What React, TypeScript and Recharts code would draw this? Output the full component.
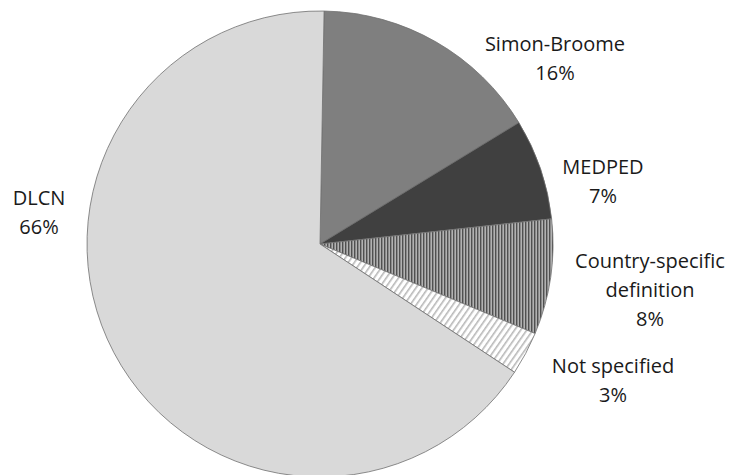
import { Cell, Pie, PieChart } from "recharts";

const categories = ["Simon-Broome", "MEDPED", "Country-specific definition", "Not specified", "DLCN"];
const shares = [16, 7, 8, 3, 66];

// label lines shown above the percentage
const labelLines: Record<string, string[]> = {
  "Simon-Broome": ["Simon-Broome"],
  MEDPED: ["MEDPED"],
  "Country-specific definition": ["Country-specific", "definition"],
  "Not specified": ["Not specified"],
  DLCN: ["DLCN"],
};

// label anchor (centre x, first baseline y), placed by hand like the original
const labelAnchor: Record<string, [number, number]> = {
  "Simon-Broome": [555, 51],
  MEDPED: [603, 174],
  "Country-specific definition": [650, 268],
  "Not specified": [613, 373],
  DLCN: [39, 205],
};

const fills = ["#7f7f7f", "#404040", "url(#vstripes)", "url(#diag)", "#d9d9d9"];

const data = categories.map((name, i) => ({ name, value: shares[i] }));

const LINE_H = 29;

function renderLabel(props: any) {
  const name = props.name ?? props.payload?.name;
  const anchor = labelAnchor[name];
  if (!anchor) return null;
  const lines = [...labelLines[name], `${Math.round(props.percent * 100)}%`];
  return (
    <text
      key={name}
      x={anchor[0]}
      y={anchor[1]}
      textAnchor="middle"
      fill="#1a1a1a"
      fontSize={20}
      fontFamily="'Open Sans', sans-serif"
    >
      {lines.map((l, i) => (
        <tspan key={i} x={anchor[0]} dy={i === 0 ? 0 : LINE_H}>
          {l}
        </tspan>
      ))}
    </text>
  );
}

export default function App() {
  return (
    <div style={{ width: 731, height: 475, background: "#fff", position: "relative" }}>
      <style>{`body{margin:0}`}</style>
      <svg width={0} height={0} style={{ position: "absolute" }}>
        <defs>
          <pattern id="vstripes" width={3} height={3} patternUnits="userSpaceOnUse">
            <rect x={0} y={0} width={3} height={3} fill="#8a8a8a" />
            <rect x={0} y={0} width={1} height={3} fill="#505050" />
            <rect x={2} y={0} width={1} height={3} fill="#b2b2b2" />
          </pattern>
          <pattern
            id="diag"
            width={5}
            height={5}
            patternUnits="userSpaceOnUse"
            patternTransform="rotate(35)"
          >
            <rect x={0} y={0} width={5} height={5} fill="#ffffff" />
            <rect x={0} y={0} width={1.6} height={5} fill="#b8b8b8" />
          </pattern>
        </defs>
      </svg>
      <PieChart width={731} height={475} margin={{ top: 0, right: 0, bottom: 0, left: 0 }}>
        <Pie
          data={data}
          dataKey="value"
          nameKey="name"
          cx={320}
          cy={244}
          outerRadius={233}
          startAngle={89}
          endAngle={-271}
          stroke="#707070"
          strokeWidth={0.8}
          label={renderLabel}
          labelLine={false}
          isAnimationActive={false}
        >
          {data.map((d, i) => (
            <Cell key={d.name} fill={fills[i]} />
          ))}
        </Pie>
      </PieChart>
    </div>
  );
}
